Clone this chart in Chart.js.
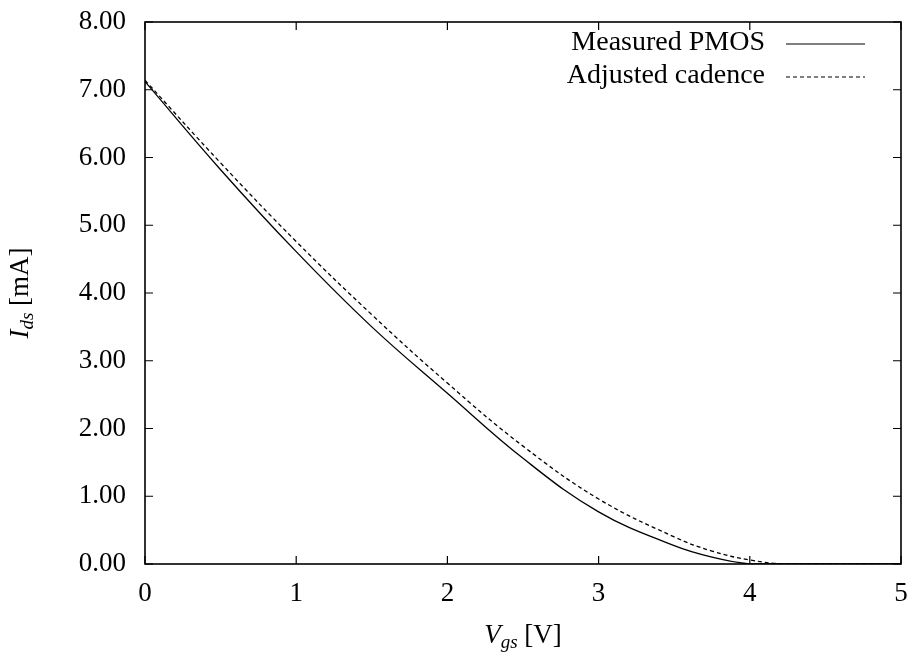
<!DOCTYPE html>
<html>
<head>
<meta charset="utf-8">
<script src="https://cdn.jsdelivr.net/npm/chart.js@4"></script>
<style>
  html, body { margin: 0; padding: 0; background: #fff; }
  #wrap { width: 915px; height: 659px; }
</style>
</head>
<body>
<div id="wrap"><canvas id="myChart"></canvas></div>
<script>
// values
var vgs = [0, 0.5, 1, 1.5, 2, 2.5, 3, 3.5, 3.75, 4, 4.25, 5];
var measured = [7.12, 5.82, 4.61, 3.50, 2.52, 1.56, 0.77, 0.27, 0.10, 0.0, 0.0, 0.0];
var adjusted = [7.14, 5.92, 4.76, 3.68, 2.67, 1.74, 0.96, 0.40, 0.19, 0.06, 0.0, 0.0];
var seriesNames = ["Measured PMOS", "Adjusted cadence"];
var xTicks = [0, 1, 2, 3, 4, 5];
var yTicks = [0, 1, 2, 3, 4, 5, 6, 7, 8];

var FONT = "'Liberation Serif', 'DejaVu Serif', serif";
var FS = 27;

function pts(ys) {
    return vgs.map(function (x, i) { return { x: x, y: ys[i] }; });
}

// frame, inward ticks, legend and axis titles
var decor = {
    id: "decor",
    afterDatasetsDraw: function (chart) {
        var ctx = chart.ctx, a = chart.chartArea;
        var xs = chart.scales.x, ys = chart.scales.y;
        ctx.save();
        ctx.strokeStyle = "#000";
        ctx.lineWidth = 1.6;
        ctx.strokeRect(a.left, a.top, a.right - a.left, a.bottom - a.top);
        ctx.lineWidth = 1.2;
        ctx.beginPath();
        xTicks.forEach(function (v) {
            var px = xs.getPixelForValue(v);
            ctx.moveTo(px, a.bottom); ctx.lineTo(px, a.bottom - 8);
            ctx.moveTo(px, a.top); ctx.lineTo(px, a.top + 8);
        });
        yTicks.forEach(function (v) {
            var py = ys.getPixelForValue(v);
            ctx.moveTo(a.left, py); ctx.lineTo(a.left + 8, py);
            ctx.moveTo(a.right, py); ctx.lineTo(a.right - 8, py);
        });
        ctx.stroke();

        // legend
        ctx.fillStyle = "#000";
        ctx.font = "28px " + FONT;
        ctx.textAlign = "right";
        ctx.textBaseline = "middle";
        var rows = [a.top + 21, a.top + 54];
        seriesNames.forEach(function (name, i) {
            ctx.fillText(name, 765, rows[i]);
            ctx.beginPath();
            ctx.lineWidth = 1.2;
            ctx.setLineDash(i === 0 ? [] : [4, 3]);
            ctx.moveTo(786, rows[i] + 1);
            ctx.lineTo(865, rows[i] + 1);
            ctx.stroke();
        });
        ctx.setLineDash([]);

        // x title: V_gs [V]
        ctx.textAlign = "left";
        ctx.textBaseline = "alphabetic";
        var parts = [
            ["italic " + FS + "px " + FONT, "V", 0],
            ["italic " + Math.round(FS * 0.7) + "px " + FONT, "gs", 5],
            [FS + "px " + FONT, " [V]", 0]
        ];
        function width(p) {
            return p.reduce(function (s, q) { ctx.font = q[0]; return s + ctx.measureText(q[1]).width; }, 0);
        }
        var w = width(parts);
        var x0 = (a.left + a.right) / 2 - w / 2, base = 643;
        parts.forEach(function (q) {
            ctx.font = q[0];
            ctx.fillText(q[1], x0, base + q[2]);
            x0 += ctx.measureText(q[1]).width;
        });

        // y title: I_ds [mA]
        var yparts = [
            ["italic " + FS + "px " + FONT, "I", 0],
            ["italic " + Math.round(FS * 0.7) + "px " + FONT, "ds", 5],
            [FS + "px " + FONT, " [mA]", 0]
        ];
        var wy = width(yparts);
        ctx.translate(28, (a.top + a.bottom) / 2);
        ctx.rotate(-Math.PI / 2);
        var y0 = -wy / 2;
        yparts.forEach(function (q) {
            ctx.font = q[0];
            ctx.fillText(q[1], y0, q[2]);
            y0 += ctx.measureText(q[1]).width;
        });
        ctx.restore();
    }
};

var myChart = new Chart(document.getElementById("myChart").getContext("2d"), {
    type: "line",
    data: {
        datasets: [{
            label: seriesNames[0],
            data: pts(measured),
            borderColor: "#000",
            borderWidth: 1.3,
            pointRadius: 0,
            tension: 0.4,
            fill: false
        }, {
            label: seriesNames[1],
            data: pts(adjusted),
            borderColor: "#000",
            borderWidth: 1.3,
            borderDash: [4, 3],
            pointRadius: 0,
            tension: 0.4,
            fill: false
        }]
    },
    options: {
        responsive: true,
        maintainAspectRatio: false,
        animation: false,
        layout: { padding: { left: 0, top: 22, right: 14, bottom: 0 } },
        plugins: { legend: { display: false }, tooltip: { enabled: false } },
        scales: {
            x: {
                type: "linear",
                min: 0, max: 5,
                grid: { display: false },
                border: { display: false },
                ticks: {
                    stepSize: 1, padding: 6, color: "#000",
                    font: { family: FONT, size: FS },
                    maxRotation: 0
                },
                afterFit: function (s) { s.height = 95; s.paddingLeft = 0; s.paddingRight = 0; }
            },
            y: {
                min: 0, max: 8,
                grid: { display: false },
                border: { display: false },
                ticks: {
                    stepSize: 1, padding: 11, color: "#000",
                    font: { family: FONT, size: FS },
                    callback: function (v) { return v.toFixed(2); }
                },
                afterFit: function (s) { s.width = 145; s.paddingTop = 0; s.paddingBottom = 0; }
            }
        }
    },
    plugins: [decor]
});
</script>
</body>
</html>
